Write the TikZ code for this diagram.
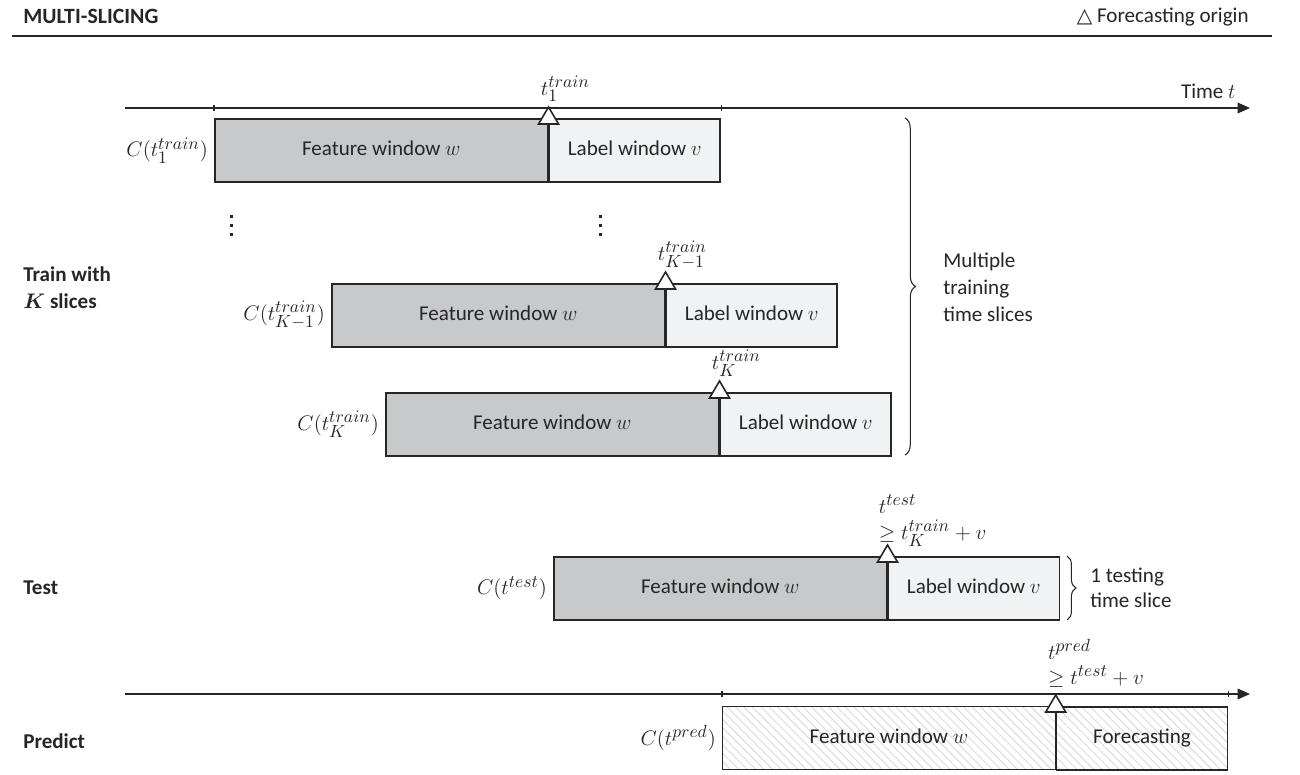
\documentclass[tikz,border=0pt]{standalone}
\usepackage{fontspec}
\setmainfont{Carlito}
\newfontfamily\symfont{DejaVu Sans}
\DeclareMathSizes{12}{13.2}{10}{8}
\usetikzlibrary{patterns.meta,decorations.pathreplacing,arrows.meta,calc}
\definecolor{ink}{HTML}{262626}
\definecolor{featgray}{HTML}{C8C9CB}
\definecolor{labgray}{HTML}{F1F2F4}
\definecolor{hatchgray}{HTML}{D6D6D6}
\newcommand\originmark[1]{\draw[origin] ($(#1)+(-10,6)$) -- ($(#1)+(10,6)$) -- ($(#1)+(0,-11)$) -- cycle;}
\newcommand\vdotmark[1]{\foreach \dy in {-9,0,9} {\fill[ink] ($(#1)+(-1.5,\dy-1.5)$) rectangle ($(#1)+(1.5,\dy+1.5)$);}}
\begin{document}
\begin{tikzpicture}[x=0.02cm,y=-0.02cm, font=\fontsize{12}{14.4}\selectfont, text=ink,
 win/.style={draw=ink, line width=0.9pt, inner sep=0pt, minimum height=1.26cm, anchor=north west, text height=1.7ex, text depth=0.45ex},
 feat/.style={win, fill=featgray, minimum width=6.66cm},
 labw/.style={win, fill=labgray, minimum width=3.42cm},
 hatchf/.style={win, minimum width=6.66cm, pattern={Lines[angle=-45,distance=3.4pt,line width=0.45pt]}, pattern color=hatchgray},
 hatchl/.style={win, minimum width=3.42cm, pattern={Lines[angle=-45,distance=3.4pt,line width=0.45pt]}, pattern color=hatchgray},
 axisline/.style={draw=ink, line width=0.9pt, -{Triangle[length=7pt,width=6pt]}},
 tickmark/.style={draw=ink, line width=0.6pt},
 origin/.style={draw=ink, fill=white, line width=0.9pt, line join=miter},
 bracel/.style={draw=ink, line width=0.6pt, decorate, decoration={brace, amplitude=6pt}},
 rowlabel/.style={font=\fontsize{12}{15.3}\selectfont\bfseries, anchor=west, align=left, inner sep=0pt},
 tlabel/.style={anchor=base west, inner sep=0pt},
 ]
\fill[white] (0,0) rectangle (1300,774);
% header
\node[anchor=west, inner sep=0pt, font=\fontsize{12.4}{14}\selectfont\bfseries] (title) at (23,16) {MULTI-SLICING};
\node[anchor=east, inner sep=0pt] (legend) at (1249,17) {{\symfont\fontsize{11.5}{13}\selectfont △}\ Forecasting origin};
\coordinate (hrs) at (12,36);
\coordinate (hre) at (1272,36);
\draw[draw=ink, line width=1.1pt] (hrs) -- (hre);

% top axis
\coordinate (a1s) at (125,108);
\coordinate (a1e) at (1250,108);
\draw[axisline] (a1s) -- (a1e);
\node[anchor=base east, inner sep=0pt] (timelbl) at (1236,98) {Time $t$};

% slice 1
\node[feat] (f1) at (214,118) {Feature window $w$};
\node[labw] (l1) at (f1.north east) {Label window $v$};
\draw[tickmark] ($(f1.north west |- a1s)+(0,-3)$) -- ($(f1.north west |- a1s)+(0,3)$);
\draw[tickmark] ($(l1.north east |- a1s)+(0,-3)$) -- ($(l1.north east |- a1s)+(0,3)$);
\originmark{f1.north east}
\node[tlabel] (t1) at ($(f1.north east)+(-8,-23)$) {$t_1^{train}$};
\node[anchor=east] (c1) at (f1.west) {$C\bigl(t_1^{train}\bigr)$};

% dots
\coordinate (d1) at (231,225);
\coordinate (d2) at (600,225);
\vdotmark{d1}
\vdotmark{d2}

% slice K-1
\node[feat] (f2) at (331,283) {Feature window $w$};
\node[labw] (l2) at (f2.north east) {Label window $v$};
\originmark{f2.north east}
\node[tlabel] (t2) at ($(f2.north east)+(-8,-23)$) {$t_{K-1}^{train}$};
\node[anchor=east] (c2) at (f2.west) {$C\bigl(t_{K-1}^{train}\bigr)$};

% slice K
\node[feat] (f3) at (385,392) {Feature window $w$};
\node[labw] (l3) at (f3.north east) {Label window $v$};
\originmark{f3.north east}
\node[tlabel] (t3) at ($(f3.north east)+(-8,-23)$) {$t_K^{train}$};
\node[anchor=east] (c3) at (f3.west) {$C\bigl(t_K^{train}\bigr)$};

% train brace
\coordinate (b1s) at (905,118);
\coordinate (b1e) at (905,455);
\draw[bracel] (b1s) -- (b1e);
\node[anchor=west, align=left, inner sep=0pt, font=\fontsize{12}{15.3}\selectfont] (multi) at (943,287) {Multiple\\training\\time slices};
\node[rowlabel] (trainlbl) at (23,288) {Train with\\{\boldmath$K$} slices};

% test
\node[feat] (ft) at (553,556) {Feature window $w$};
\node[labw] (lt) at (ft.north east) {Label window $v$};
\originmark{ft.north east}
\node[tlabel] (tt1) at ($(ft.north east)+(-9,-43)$) {$t^{test}$};
\node[tlabel] (tt2) at ($(ft.north east)+(-9,-17)$) {$\geq t_K^{train} + v$};
\node[anchor=east] (ct) at (ft.west) {$C\bigl(t^{test}\bigr)$};
\coordinate (b2s) at (1067,556);
\coordinate (b2e) at (1067,620);
\draw[bracel, decoration={brace, amplitude=5pt}] (b2s) -- (b2e);
\node[anchor=west, align=left, inner sep=0pt, font=\fontsize{12}{14.2}\selectfont] (onetest) at (1090,588) {1 testing\\time slice};
\node[rowlabel] (testlbl) at (23,588) {Test};

% predict axis
\coordinate (a2s) at (125,694);
\coordinate (a2e) at (1250,694);
\draw[axisline] (a2s) -- (a2e);

% predict
\node[hatchf] (fp) at (722,706) {Feature window $w$};
\node[hatchl] (lp) at (fp.north east) {Forecasting};
\draw[tickmark] ($(fp.north west |- a2s)+(0,-3)$) -- ($(fp.north west |- a2s)+(0,3)$);
\draw[tickmark] ($(lp.north east |- a2s)+(0,-3)$) -- ($(lp.north east |- a2s)+(0,3)$);
\originmark{fp.north east}
\node[tlabel] (tp1) at ($(fp.north east)+(-8,-47)$) {$t^{pred}$};
\node[tlabel] (tp2) at ($(fp.north east)+(-8,-22)$) {$\geq t^{test} + v$};
\node[anchor=east] (cp) at (fp.west) {$C\bigl(t^{pred}\bigr)$};
\node[rowlabel] (predlbl) at (23,741) {Predict};
\end{tikzpicture}
\end{document}
